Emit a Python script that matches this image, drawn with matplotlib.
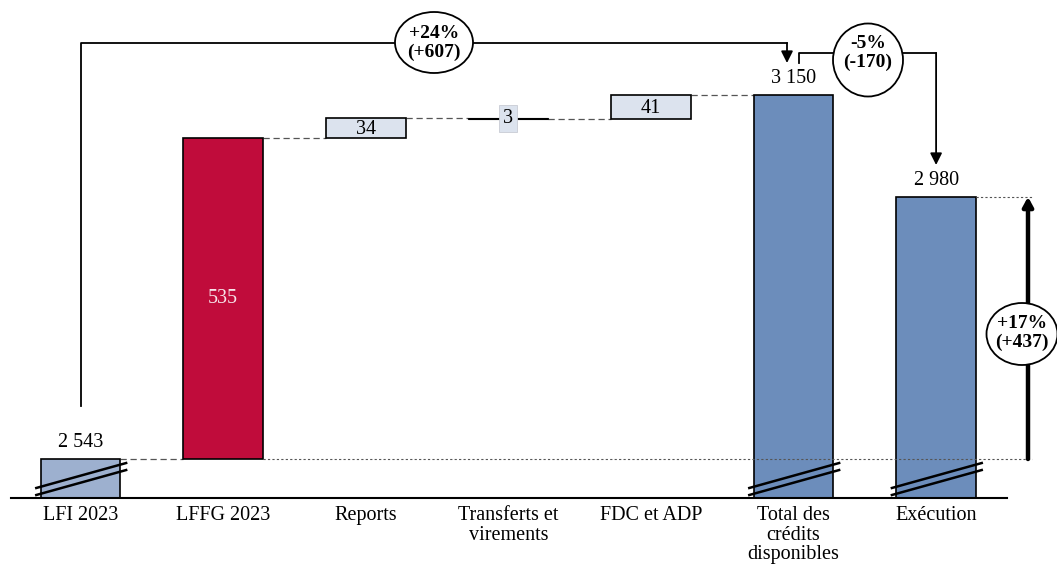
import numpy as np
import matplotlib.pyplot as plt
from matplotlib.patches import Ellipse

plt.rcParams['font.family'] = ['Liberation Serif', 'DejaVu Serif']

categories = ["LFI 2023", "LFFG 2023", "Reports", "Transferts et\nvirements",
              "FDC et ADP", "Total des\ncrédits\ndisponibles", "Exécution"]
lfi = 2543
steps = [535, 34, -3, 41]
step_labels = ["535", "34", "3", "41"]
total = 3150
execution = 2980
variations = ["+24%\n(+607)", "-5%\n(-170)", "+17%\n(+437)"]
base = 2478  # bas de l'axe coupé

# échelle : 142.6 px par barre, 0.6 px par unité
px_x = 142.6
px_y = 0.6

fig = plt.figure(figsize=(10.57, 5.66), dpi=100)
ax = fig.add_axes([0, 68 / 566, 1, 498 / 566])
ax.set_xlim(-80.5 / px_x, (1057 - 80.5) / px_x)
ax.set_ylim(base, base + 498 / px_y)
ax.axis('off')

w = 0.56
x = np.arange(len(categories))

# barres
ax.bar(0, lfi - base, bottom=base, width=w, color='#9DB0CF', edgecolor='black', lw=1.2, zorder=2)
bottoms = lfi + np.concatenate([[0], np.cumsum(steps)[:-1]])
colors = ['#C00C3B', '#DCE3EE', '#F2F4F8', '#DCE3EE']
lws = [1.2, 1.2, 0.8, 1.2]
ax.bar(x[1:5], steps, bottom=bottoms, width=w, color=colors, edgecolor='black', lw=lws, zorder=2)
ax.bar(x[5:], [total - base, execution - base], bottom=base, width=w,
       color='#6C8DBB', edgecolor='black', lw=1.2, zorder=2)

# valeurs
ax.text(0, lfi + 12, "2 543", ha='center', va='bottom', fontsize=14.5)
ax.text(5, total + 12, "3 150", ha='center', va='bottom', fontsize=14.5)
ax.text(6, execution + 12, "2 980", ha='center', va='bottom', fontsize=14.5)
for i, (b, s, lab) in enumerate(zip(bottoms, steps, step_labels)):
    if i == 0:
        ax.text(x[1], b + s / 2, lab, ha='center', va='center', fontsize=14.5, color='#F6E4E9', zorder=3)
    elif i == 2:
        ax.text(x[3], b + s / 2, lab, ha='center', va='center', fontsize=14.5, zorder=3,
                bbox=dict(boxstyle='square,pad=0.2', facecolor='#DCE3EE', edgecolor='#C8CCD4', lw=0.6))
    else:
        ax.text(x[i + 1], b + s / 2 - 2, lab, ha='center', va='center', fontsize=14.5, zorder=3)

# connecteurs pointillés
tops = bottoms + np.array(steps)
ax.plot([0 + w / 2, 1 - w / 2], [lfi, lfi], ls=(0, (5, 3)), color='#555555', lw=0.9, zorder=1)
for i in range(4):
    ax.plot([x[i + 1] + w / 2, x[i + 2] - w / 2], [tops[i], tops[i]],
            ls=(0, (5, 3)), color='#555555', lw=0.9, zorder=1)
ax.plot([1 + w / 2, (1032 - 80.5) / px_x], [lfi, lfi], ls=(0, (2, 2)), color='#555555', lw=0.8, zorder=3)
ax.plot([6 + w / 2, (1032 - 80.5) / px_x], [execution, execution], ls=(0, (2, 2)),
        color='#555555', lw=0.8, zorder=3)

# axe
ax.plot([-70 / px_x, 6.5], [base, base], color='black', lw=1.5, clip_on=False, zorder=4)

# coupures d'axe
for xi in [0, 5, 6]:
    for off in [0, -11.7]:
        ax.plot([xi - w / 2 - 0.03, xi + w / 2 + 0.04],
                [base + 16.7 + off, base + 58.3 + off], color='black', lw=1.8, zorder=4)

# libellés de catégories
for xi, lab in zip(x, categories):
    ax.text(xi, base - 8 / px_y, lab, ha='center', va='top', fontsize=14.5,
            linespacing=1.05, clip_on=False)

arrow_kw = dict(arrowstyle='-|>,head_length=0.7,head_width=0.35', color='black', lw=1.3,
                shrinkA=0, shrinkB=0)

# +24 %
y1 = base + 455 / px_y
x_end1 = (787 - 80.5) / px_x
ax.plot([0, 0, x_end1], [lfi + 88, y1, y1], color='black', lw=1.3, zorder=3)
ax.annotate("", xy=(x_end1, base + 435 / px_y), xytext=(x_end1, y1), arrowprops=arrow_kw)
ax.add_patch(Ellipse(((434 - 80.5) / px_x, base + 455.5 / px_y), 78 / px_x, 61 / px_y,
                     facecolor='white', edgecolor='black', lw=1.3, zorder=5))
ax.text((434 - 80.5) / px_x, y1, variations[0], ha='center', va='center', fontsize=14,
        fontweight='bold', linespacing=1.2, zorder=6)

# -5 %
y2 = base + 445 / px_y
x_start2 = (799 - 80.5) / px_x
ax.plot([x_start2, x_start2, 6], [base + 435 / px_y, y2, y2], color='black', lw=1.3, zorder=3)
ax.annotate("", xy=(6, base + 333 / px_y), xytext=(6, y2), arrowprops=arrow_kw)
ax.add_patch(Ellipse(((868 - 80.5) / px_x, base + 438 / px_y), 70 / px_x, 73 / px_y,
                     facecolor='white', edgecolor='black', lw=1.3, zorder=5))
ax.text((868 - 80.5) / px_x, y2, variations[1], ha='center', va='center', fontsize=14,
        fontweight='bold', linespacing=1.2, zorder=6)

# +17 %
x3 = (1028 - 80.5) / px_x
ax.annotate("", xy=(x3, execution), xytext=(x3, lfi),
            arrowprops=dict(arrowstyle='-|>,head_length=0.55,head_width=0.3', color='black',
                            lw=3.2, shrinkA=0, shrinkB=0))
ax.add_patch(Ellipse(((1022 - 80.5) / px_x, base + 164 / px_y), 71 / px_x, 62 / px_y,
                     facecolor='white', edgecolor='black', lw=1.3, zorder=5, clip_on=False))
ax.text((1022 - 80.5) / px_x, base + 165 / px_y, variations[2], ha='center', va='center', fontsize=14,
        fontweight='bold', linespacing=1.2, zorder=6)

fig.savefig('out.png', dpi=100)
